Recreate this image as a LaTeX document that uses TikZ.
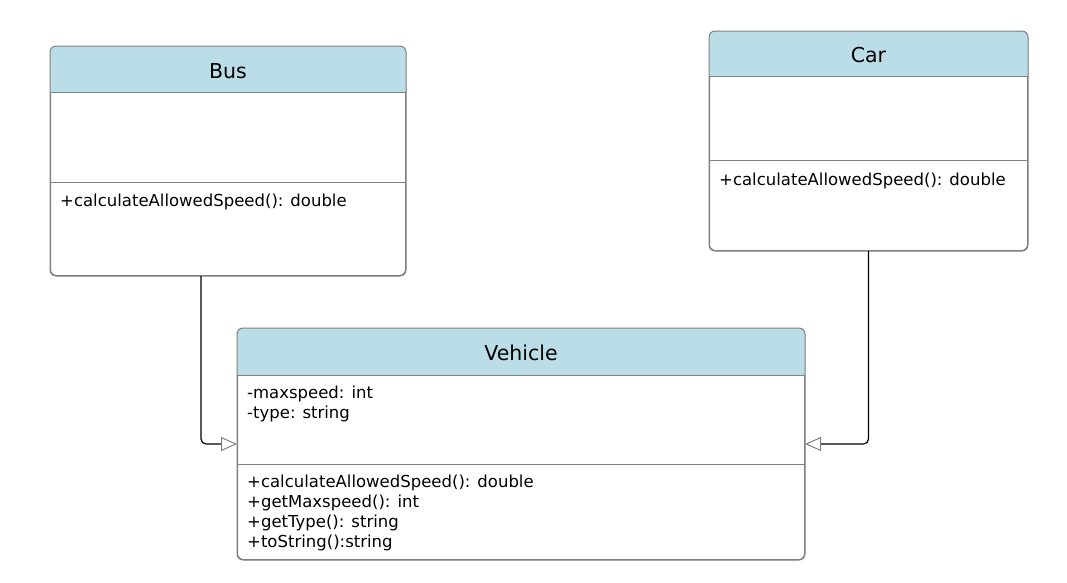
\documentclass[tikz,border=0pt]{standalone}
\usepackage{fontspec}
\setmainfont{DejaVu Sans}
\usetikzlibrary{arrows.meta}
\definecolor{hdr}{HTML}{BBDDE8}
\definecolor{bord}{HTML}{808080}
\tikzset{
  umlbox/.style={draw=bord, line width=1pt, fill=white, rounded corners=6pt, anchor=north west, inner sep=0pt},
  divider/.style={draw=bord, line width=1pt},
  title/.style={font=\fontsize{20.5}{24}\selectfont, inner sep=0pt},
  member/.style={font=\fontsize{16.5}{20}\selectfont, anchor=base west, inner sep=0pt, align=left},
  inh/.style={draw=black, line width=1.2pt, rounded corners=5pt, -{Triangle[open, length=16pt, width=14pt, color=bord, line width=1pt]}}
}
\begin{document}
\begin{tikzpicture}[x=1pt, y=-1pt]
\useasboundingbox (0,0) rectangle (1067,582);
% Bus
\node[umlbox, minimum width=355pt, minimum height=229pt] (bus) at (50,46) {};
\begin{scope}
  \clip[rounded corners=6pt] (bus.north west) rectangle (bus.south east);
  \fill[hdr] (bus.north west) rectangle ([yshift=-46pt]bus.north east);
\end{scope}
\draw[bord, line width=1pt, rounded corners=6pt] (bus.north west) rectangle (bus.south east);
\draw[divider] ([yshift=-46pt]bus.north west) -- ([yshift=-46pt]bus.north east);
\draw[divider] ([yshift=-136pt]bus.north west) -- ([yshift=-136pt]bus.north east);
\node[title] (bustitle) at ([yshift=-25pt]bus.north) {Bus};
\node[member] (busm) at (60,206) {+calculateAllowedSpeed(): double};
% Car
\node[umlbox, minimum width=318pt, minimum height=219pt] (car) at (709,31) {};
\begin{scope}
  \clip[rounded corners=6pt] (car.north west) rectangle (car.south east);
  \fill[hdr] (car.north west) rectangle ([yshift=-45pt]car.north east);
\end{scope}
\draw[bord, line width=1pt, rounded corners=6pt] (car.north west) rectangle (car.south east);
\draw[divider] ([yshift=-45pt]car.north west) -- ([yshift=-45pt]car.north east);
\draw[divider] ([yshift=-129pt]car.north west) -- ([yshift=-129pt]car.north east);
\node[title] (cartitle) at ([yshift=-24.5pt]car.north) {Car};
\node[member] (carm) at (719,185) {+calculateAllowedSpeed(): double};
% Vehicle
\node[umlbox, minimum width=567pt, minimum height=231pt] (veh) at (237,328) {};
\begin{scope}
  \clip[rounded corners=6pt] (veh.north west) rectangle (veh.south east);
  \fill[hdr] (veh.north west) rectangle ([yshift=-47pt]veh.north east);
\end{scope}
\draw[bord, line width=1pt, rounded corners=6pt] (veh.north west) rectangle (veh.south east);
\draw[divider] ([yshift=-47pt]veh.north west) -- ([yshift=-47pt]veh.north east);
\draw[divider] ([yshift=-136pt]veh.north west) -- ([yshift=-136pt]veh.north east);
\node[title] (vehtitle) at ([yshift=-25pt]veh.north) {Vehicle};
\node[member] (veha1) at (247,398) {-maxspeed: int};
\node[member] (veha2) at (247,418) {-type: string};
\node[member] (vehm1) at (247,487) {+calculateAllowedSpeed(): double};
\node[member] (vehm2) at (247,507) {+getMaxspeed(): int};
\node[member] (vehm3) at (247,527) {+getType(): string};
\node[member] (vehm4) at (247,547) {+toString():string};
% connectors
\draw[inh] ([xshift=151pt]bus.south west) |- (veh.west);
\draw[inh] (car.south) |- (veh.east);
\end{tikzpicture}
\end{document}
